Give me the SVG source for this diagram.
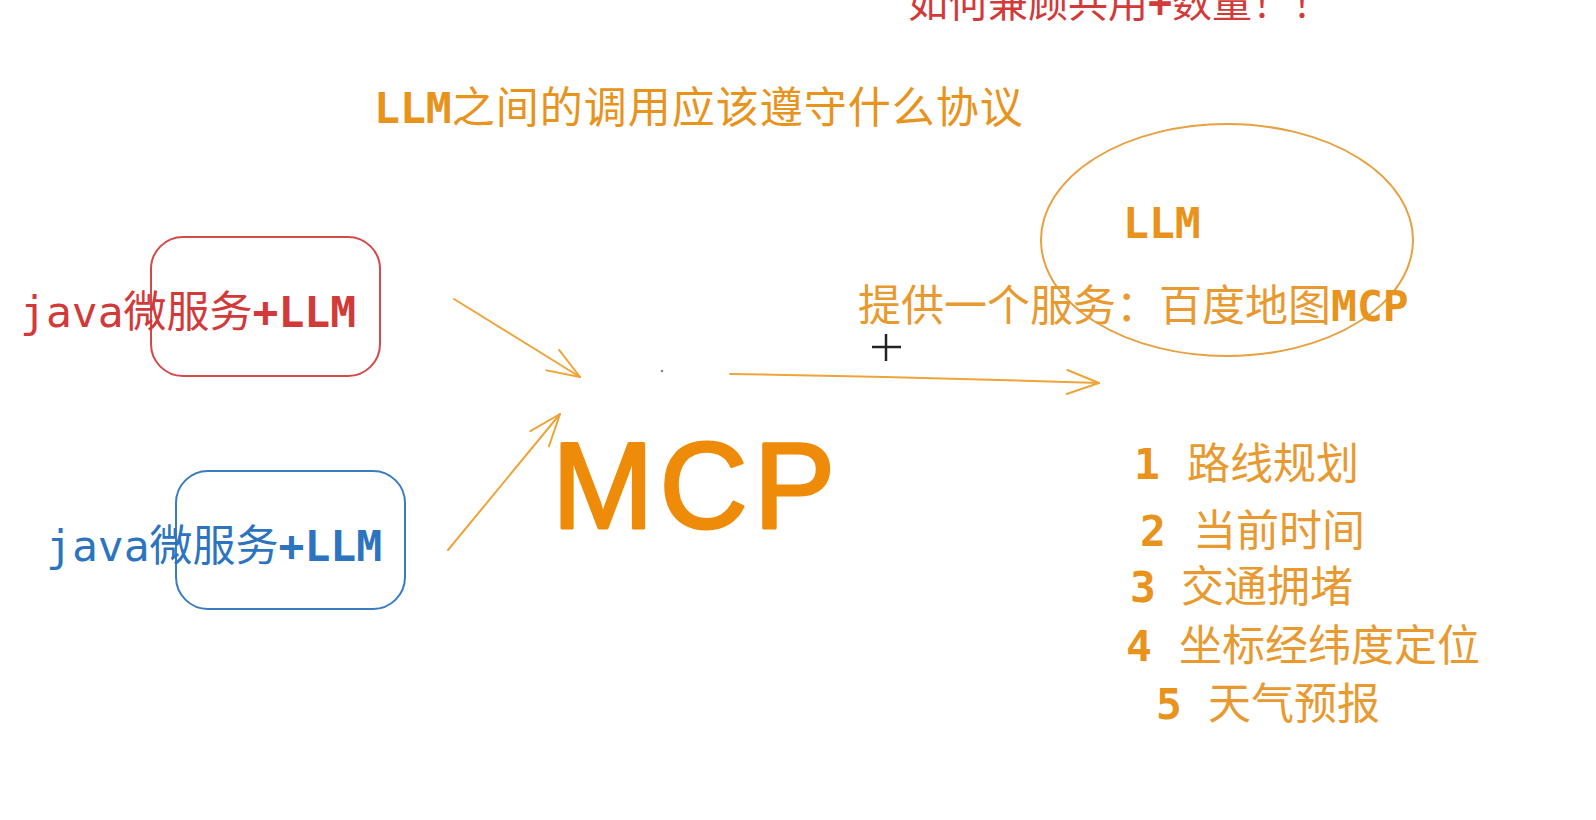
<svg xmlns="http://www.w3.org/2000/svg" width="1596" height="820" viewBox="0 0 1596 820">
<style>
.bg{fill:#ffffff}
.t{font-family:"DejaVu Sans Mono","Noto Sans CJK SC",monospace;font-size:43px}
.cjk{font-family:"Noto Sans CJK SC","Noto Sans CJK SC",sans-serif;font-weight:400}
.b{font-weight:700}
.r{fill:#d23a3a}
.bl{fill:#2c74c0}
.o{fill:#e8931c}
.ol{fill:#e89a30}
.conn{fill:none;stroke:#efa43a;stroke-width:2;stroke-linecap:round}
</style>
<defs>
<marker id="ah" markerUnits="userSpaceOnUse" markerWidth="60" markerHeight="60" refX="0" refY="0" viewBox="-40 -30 50 60" orient="auto" overflow="visible">
<path d="M-32,-12 L0,0 L-32,12" fill="none" stroke="#efa43a" stroke-width="2" stroke-linecap="round" stroke-linejoin="round"/>
</marker>
</defs>
<rect class="bg" x="0" y="0" width="1596" height="820"/>

<g id="node-question">
<text class="t cjk r" x="908" y="17" style="font-size:40px">如何兼顾共用<tspan class="b" style="font-family:'DejaVu Sans Mono',monospace">+</tspan>数量！！</text>
</g>

<g id="node-protocol">
<text class="t o" x="374" y="123"><tspan class="b">LLM</tspan><tspan style="font-family:'Noto Sans CJK SC',sans-serif;font-size:43px" letter-spacing="1">之间的调用应该遵守什么协议</tspan></text>
</g>

<g id="node-java-red">
<rect x="151" y="237" width="229" height="139" rx="32" ry="32" fill="none" stroke="#d24a4a" stroke-width="2"/>
<text class="t r" x="20" y="327">java<tspan style="font-family:'Noto Sans CJK SC',sans-serif">微服务</tspan><tspan class="b">+LLM</tspan></text>
</g>

<g id="node-java-blue">
<rect x="176" y="471" width="229" height="138" rx="32" ry="32" fill="none" stroke="#3a7cc4" stroke-width="2"/>
<text class="t bl" x="46" y="561">java<tspan style="font-family:'Noto Sans CJK SC',sans-serif">微服务</tspan><tspan class="b">+LLM</tspan></text>
</g>

<g id="node-mcp">
<text x="552" y="528" textLength="283" lengthAdjust="spacing" style="font-family:'Liberation Sans',sans-serif;font-size:122px" fill="#ee8c0a" stroke="#ee8c0a" stroke-width="3" stroke-linejoin="round">MCP</text>
<circle cx="662" cy="371" r="1.3" fill="#888"/>
</g>

<g id="node-llm">
<ellipse cx="1227" cy="240" rx="186" ry="116" fill="none" stroke="#e8a040" stroke-width="2"/>
<text class="t o b" x="1123" y="238">LLM</text>
</g>

<g id="node-service">
<text class="t ol" x="858" y="321"><tspan style="font-family:'Noto Sans CJK SC',sans-serif">提供一个服务：百度地图</tspan><tspan class="b o">MCP</tspan></text>
</g>

<g id="node-list">
<text class="t o" x="1134" y="479"><tspan class="b">1</tspan><tspan x="1187" style="font-family:'Noto Sans CJK SC',sans-serif" class="ol">路线规划</tspan></text>
<text class="t o" x="1140" y="546"><tspan class="b">2</tspan><tspan x="1193" style="font-family:'Noto Sans CJK SC',sans-serif" class="ol">当前时间</tspan></text>
<text class="t o" x="1130" y="602"><tspan class="b">3</tspan><tspan x="1181" style="font-family:'Noto Sans CJK SC',sans-serif" class="ol">交通拥堵</tspan></text>
<text class="t o" x="1126" y="661"><tspan class="b">4</tspan><tspan x="1179" style="font-family:'Noto Sans CJK SC',sans-serif" class="ol">坐标经纬度定位</tspan></text>
<text class="t o" x="1156" y="719"><tspan class="b">5</tspan><tspan x="1208" style="font-family:'Noto Sans CJK SC',sans-serif" class="ol">天气预报</tspan></text>
</g>

<g id="connectors">
<line class="conn" x1="454" y1="299" x2="580" y2="377" marker-end="url(#ah)"/>
<line class="conn" x1="448" y1="550" x2="560" y2="414" marker-end="url(#ah)"/>
<path class="conn" d="M730,374 Q915,377 1099,383" marker-end="url(#ah)"/>
</g>

<g id="cursor">
<line x1="872" y1="347" x2="901" y2="347" stroke="#222" stroke-width="2.5"/>
<line x1="886" y1="334" x2="886" y2="361" stroke="#222" stroke-width="2.5"/>
</g>
</svg>
